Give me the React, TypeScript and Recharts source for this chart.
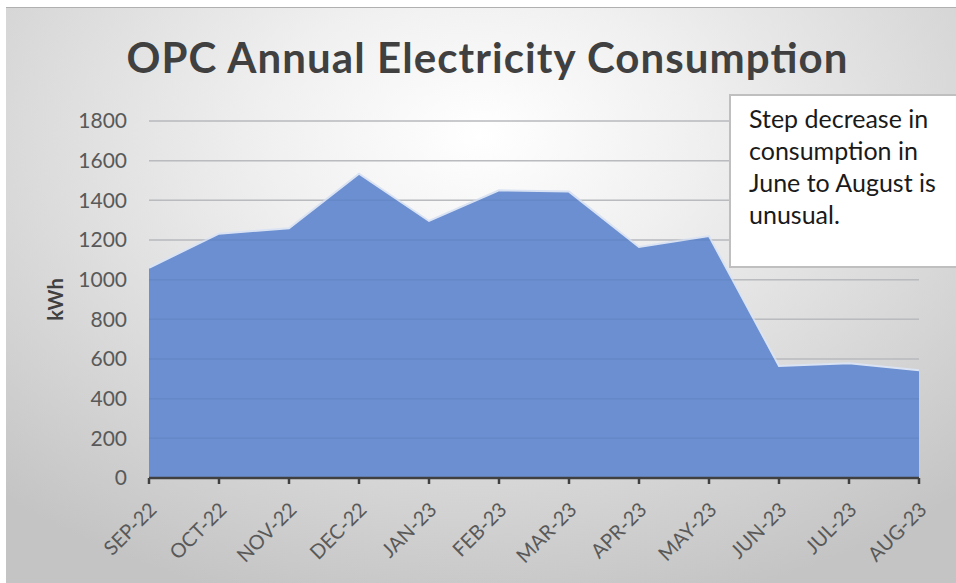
import React from "react";
import { AreaChart, Area, XAxis, YAxis, CartesianGrid, ReferenceLine } from "recharts";

const months = ["SEP-22", "OCT-22", "NOV-22", "DEC-22", "JAN-23", "FEB-23", "MAR-23", "APR-23", "MAY-23", "JUN-23", "JUL-23", "AUG-23"];
const consumption = [1060, 1232, 1259, 1534, 1296, 1451, 1444, 1165, 1220, 565, 578, 543];
const yTicks = [0, 200, 400, 600, 800, 1000, 1200, 1400, 1600, 1800];
const title = "OPC Annual Electricity Consumption";
const yLabel = "kWh";
const note = ["Step decrease in", "consumption in", "June to August is", "unusual."];

const data = months.map((m, i) => ({ month: m, kwh: consumption[i] }));

const FONT = "Lato, 'Open Sans', sans-serif";

const XTick = (props: any) => {
  const { x, y, payload } = props;
  const ax = x + 4;
  const ay = y + 20;
  return (
    <text
      x={ax}
      y={ay}
      transform={`rotate(-45, ${ax}, ${ay})`}
      textAnchor="end"
      fill="#595959"
      fontSize={20}
      fontFamily={FONT}
      dy="0.35em"
    >
      {payload.value}
    </text>
  );
};

export default function App() {
  return (
    <div style={{ position: "absolute", left: 0, top: 0, width: 956, height: 583, background: "#fff", overflow: "hidden" }}>
      <div
        style={{
          position: "absolute",
          left: 6,
          top: 7,
          width: 950,
          height: 576,
          background: "radial-gradient(ellipse 75% 85% at 50% 22%, #ffffff 0%, #f0f0f0 30%, #dcdcdc 62%, #c4c4c4 100%)",
          borderTop: "1px solid #b0b0b0",
          boxSizing: "border-box",
        }}
      >
        <AreaChart width={950} height={576} data={data} margin={{ top: 113, right: 37, left: 0, bottom: 0 }}>
          <text x={481} y={65} textAnchor="middle" fontSize={42} fontWeight={700} fontFamily={FONT} fill="#404040" textLength={721} lengthAdjust="spacing">
            {title}
          </text>
          <CartesianGrid horizontal vertical={false} stroke="#c6c6c6" strokeWidth={1.5} />
          <XAxis
            dataKey="month"
            height={106}
            tick={<XTick />}
            interval={0}
            axisLine={{ stroke: "#404040", strokeWidth: 2.5 }}
            tickLine={{ stroke: "#404040", strokeWidth: 2.5 }}
            tickSize={6}
            padding={{ left: 0, right: 0 }}
          />
          <YAxis
            width={143}
            domain={[0, 1800]}
            ticks={yTicks}
            axisLine={false}
            tickLine={false}
            tickSize={0}
            tickMargin={22}
            tick={{ fill: "#595959", fontSize: 21, fontFamily: FONT }}
            label={{ value: yLabel, angle: -90, position: "insideLeft", offset: 0, dx: 50, style: { fill: "#404040", fontSize: 20, fontWeight: 700, fontFamily: FONT, textAnchor: "middle" } }}
          />
          <Area
            type="linear"
            dataKey="kwh"
            stroke="#dae3f3"
            strokeWidth={2}
            fill="#6b8fd0"
            fillOpacity={1}
            dot={false}
            activeDot={false}
            isAnimationActive={false}
          />
          {yTicks.slice(1).map((t) => (
            <ReferenceLine key={t} y={t} stroke="rgba(40,60,110,0.08)" strokeWidth={1.5} />
          ))}
        </AreaChart>
        <div
          style={{
            position: "absolute",
            left: 723,
            top: 86,
            width: 240,
            height: 174,
            background: "#fff",
            border: "2px solid #bfbfbf",
            boxSizing: "border-box",
            padding: "6px 0 0 18px",
            fontFamily: FONT,
            fontSize: 25,
            lineHeight: "32px",
            color: "#1a1a1a",
          }}
        >
          {note.map((l, i) => (
            <div key={i}>{l}</div>
          ))}
        </div>
      </div>
    </div>
  );
}
